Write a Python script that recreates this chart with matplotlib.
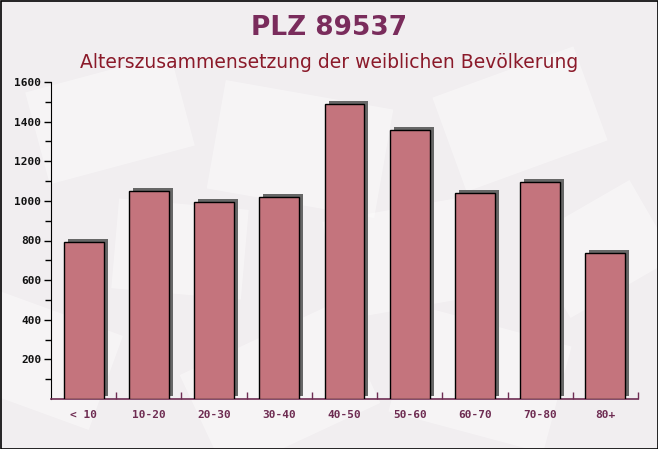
import numpy as np
import matplotlib
matplotlib.use("Agg")
import matplotlib.pyplot as plt
import matplotlib.transforms as mtransforms
from matplotlib.patches import Rectangle

# data
categories = ["< 10", "10-20", "20-30", "30-40", "40-50", "50-60", "60-70", "70-80", "80+"]
values = [790, 1048, 995, 1020, 1490, 1358, 1040, 1095, 737]
y_ticks = [200, 400, 600, 800, 1000, 1200, 1400, 1600]

title = "PLZ 89537"
subtitle = "Alterszusammensetzung der weiblichen Bevölkerung"

W, H = 658, 449
fig = plt.figure(figsize=(W / 100, H / 100), dpi=100, facecolor="#f1eef0")

# faint envelope-like shapes in the background
bg = fig.add_axes([0, 0, 1, 1], zorder=-10)
bg.set_xlim(0, W)
bg.set_ylim(0, H)
bg.axis("off")
shapes = [
    (110, 330, 150, 95, 15), (300, 300, 170, 110, -10), (520, 330, 150, 100, 20),
    (40, 90, 140, 100, -20), (280, 60, 170, 110, 25), (480, 70, 160, 110, -15),
    (600, 200, 120, 90, 30), (180, 200, 130, 90, -5), (400, 190, 140, 100, 10),
]
for cx, cy, w, h, ang in shapes:
    r = Rectangle((cx - w / 2, cy - h / 2), w, h, angle=ang, rotation_point="center",
                  facecolor="white", edgecolor="none", alpha=0.4)
    bg.add_patch(r)
bg.add_patch(Rectangle((0.5, 0.5), W - 1, H - 1, fill=False, edgecolor="black", linewidth=1.2))

ax = fig.add_axes([51 / W, 1 - 399 / H, (638 - 51) / W, (399 - 82) / H])
ax.set_facecolor("none")

x = np.arange(len(categories))
bw = 0.61
shadow_tr = mtransforms.offset_copy(ax.transData, fig=fig, x=4, y=3, units="dots")
ax.bar(x, values, width=bw, color="#676767", transform=shadow_tr, zorder=2)
ax.bar(x, values, width=bw, color="#c4747d", edgecolor="black",
       linewidth=1.0, zorder=3)

ax.set_xlim(-0.5, len(categories) - 0.5)
ax.set_ylim(0, 1600)

ax.set_yticks(y_ticks)
ax.set_yticks(np.arange(100, 1600, 200), minor=True)
ax.tick_params(axis="y", which="major", direction="out", length=5, width=1,
               labelsize=8, labelcolor="#111111", pad=2)
ax.tick_params(axis="y", which="minor", direction="out", length=4, width=1)

ax.set_xticks(x)
ax.set_xticklabels(categories)
ax.set_xticks(np.arange(0.5, len(categories)), minor=True)
ax.tick_params(axis="x", which="major", length=0, labelsize=8, labelcolor="#6e2c52", pad=8)
ax.tick_params(axis="x", which="minor", direction="in", length=5, width=1, color="#6e2c52")

for lab in ax.get_xticklabels() + ax.get_yticklabels():
    lab.set_fontfamily("DejaVu Sans Mono")
    lab.set_fontweight("bold")

ax.spines["top"].set_visible(False)
ax.spines["right"].set_visible(False)
ax.spines["left"].set_color("black")
ax.spines["bottom"].set_color("#6e2c52")
ax.spines["bottom"].set_linewidth(1.2)

fig.text(0.5, 1 - 28 / H, title, ha="center", va="center", fontsize=19,
         fontweight="bold", color="#7a2c5c")
fig.text(0.5, 1 - 62 / H, subtitle, ha="center", va="center", fontsize=13.5,
         color="#8b1a2a")

fig.savefig("out.png", dpi=100, facecolor=fig.get_facecolor())
